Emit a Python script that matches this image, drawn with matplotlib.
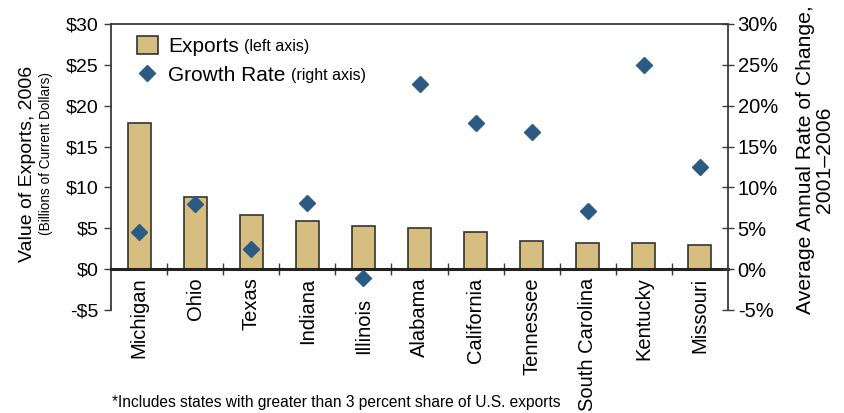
import numpy as np
import matplotlib
matplotlib.use('Agg')
import matplotlib.pyplot as plt
from matplotlib.patches import Patch
from matplotlib.lines import Line2D
from matplotlib.ticker import FuncFormatter, FixedLocator
import matplotlib.transforms as mtransforms

plt.rcParams['font.family'] = ['Liberation Sans', 'DejaVu Sans']

states = ['Michigan', 'Ohio', 'Texas', 'Indiana', 'Illinois', 'Alabama',
          'California', 'Tennessee', 'South Carolina', 'Kentucky', 'Missouri']
exports = [17.9, 8.8, 6.6, 5.9, 5.3, 5.0, 4.55, 3.5, 3.25, 3.15, 3.0]
growth = [4.6, 8.0, 2.5, 8.1, -1.1, 22.7, 17.9, 16.8, 7.1, 25.0, 12.5]

BAR_COLOR = '#D6BE80'
DIAMOND_COLOR = '#2B5A82'
AXIS_COLOR = '#3a3a3a'

fig = plt.figure(figsize=(8.45, 4.13), dpi=100)
ax = fig.add_axes([0.1314, 0.2494, 0.7301, 0.6925])
ax2 = ax.twinx()

x = np.arange(len(states))
ax.bar(x, exports, width=0.41, color=BAR_COLOR, edgecolor='#333333', linewidth=1.2, zorder=2)
ax2.plot(x, growth, linestyle='none', marker='D', markersize=8,
         color=DIAMOND_COLOR, zorder=3)

ax.set_xlim(-0.5, len(states) - 0.5)
ax.set_ylim(-5, 30)
ax2.set_ylim(-5, 30)
ax.set_yticks(np.arange(-5, 31, 5))
ax2.set_yticks(np.arange(-5, 31, 5))
ax.yaxis.set_major_formatter(FuncFormatter(lambda v, p: f'-${-v:.0f}' if v < 0 else f'${v:.0f}'))
ax2.yaxis.set_major_formatter(FuncFormatter(lambda v, p: f'{v:.0f}%'))

# spines
ax.spines['bottom'].set_position(('data', 0))
ax.spines['bottom'].set_linewidth(2.2)
ax.spines['bottom'].set_color('#222222')
for s in ['left', 'top']:
    ax.spines[s].set_linewidth(1.3)
    ax.spines[s].set_color(AXIS_COLOR)
ax.spines['right'].set_visible(False)
for s in ['left', 'top', 'bottom']:
    ax2.spines[s].set_visible(False)
ax2.spines['right'].set_linewidth(1.3)
ax2.spines['right'].set_color(AXIS_COLOR)

ax.set_xticks(x)
ax.set_xticklabels(states, rotation=90, va='top', ha='center')
ax.xaxis.set_minor_locator(FixedLocator(np.arange(0.5, len(states) - 0.5, 1)))
ax.tick_params(axis='x', which='major', length=0, pad=6, labelsize=14.5)
ax.tick_params(axis='x', which='minor', direction='inout', length=8, width=1, color=AXIS_COLOR)
ax.tick_params(axis='y', direction='out', length=5, width=1, color=AXIS_COLOR, labelsize=14, pad=4)
ax2.tick_params(axis='y', direction='inout', length=8, width=1, color=AXIS_COLOR, labelsize=14.5, pad=3)

# push Illinois label below its diamond
lab = ax.get_xticklabels()[states.index('Illinois')]
lab.set_transform(lab.get_transform() + mtransforms.ScaledTranslation(0, -0.2, fig.dpi_scale_trans))

fig.text(0.033, 0.602, 'Value of Exports, 2006', rotation=90, ha='center', va='center', fontsize=14)
fig.text(0.0545, 0.628, '(Billions of Current Dollars)', rotation=90, ha='center', va='center', fontsize=9.8)
fig.text(0.965, 0.613, 'Average Annual Rate of Change,\n2001\u20132006', rotation=90,
         ha='center', va='center', fontsize=15.2, linespacing=1.0)

handles = [Patch(facecolor=BAR_COLOR, edgecolor='#333333', linewidth=1.2),
           Line2D([], [], linestyle='none', marker='D', markersize=8, color=DIAMOND_COLOR)]
leg = ax2.legend(handles, ['Exports', 'Growth Rate'], loc='upper left', frameon=False,
                 bbox_to_anchor=(0.02, 1.005), fontsize=15, handlelength=1.0,
                 handleheight=0.95, handletextpad=0.5, labelspacing=0.4, borderaxespad=0.25)

fig.text(0.133, 0.008, '*Includes states with greater than 3 percent share of U.S. exports',
         fontsize=11.2, ha='left', va='bottom')

fig.canvas.draw()
inv = fig.transFigure.inverted()
for t, sub in zip(leg.get_texts(), ['(left axis)', '(right axis)']):
    bb = t.get_window_extent()
    x0, y0 = inv.transform((bb.x1 + 5, bb.y0 + 2))
    fig.text(x0, y0, sub, fontsize=11.5, ha='left', va='bottom')

fig.savefig('out.png', dpi=100)
